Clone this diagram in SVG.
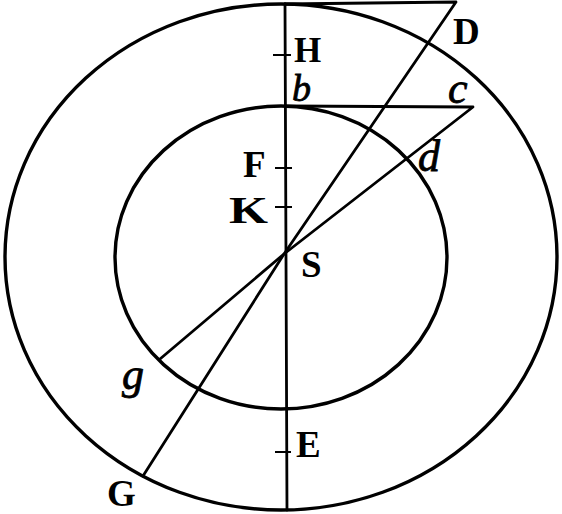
<svg xmlns="http://www.w3.org/2000/svg" width="562" height="514" viewBox="0 0 562 514">
<style>
.ln{fill:none;stroke:#000;stroke-width:2.8;stroke-linecap:round;stroke-linejoin:round}
.cir{fill:none;stroke:#000;stroke-width:3.4}
.tk{stroke:#000;stroke-width:2}
.cap{font-family:"Liberation Serif","Times New Roman",serif;font-weight:bold;font-size:37px;fill:#000}
.it{font-family:"Liberation Serif","Times New Roman",serif;font-style:italic;font-size:44px;fill:#000;stroke:#000;stroke-width:0.8}
</style>
<rect width="562" height="514" fill="#fff"/>
<g id="outer-circle"><ellipse class="cir" cx="281" cy="257" rx="276" ry="253"/></g>
<g id="inner-circle"><ellipse class="cir" cx="281" cy="257.5" rx="166" ry="151.5"/></g>
<g id="connectors">
<path class="ln" d="M285,4 L287,510"/>
<path class="ln" d="M285,4 L456,2 L284,254 L143,476"/>
<path class="ln" d="M285,106 L473,107 L284,254 L160,359"/>
<path class="tk" d="M273,55 H291 M275,168 H292 M275,207 H292 M275,452 H291"/>
</g>
<g id="H"><text class="cap" x="294" y="62" style="font-size:35px">H</text></g>
<g id="D"><text class="cap" x="453" y="44">D</text></g>
<g id="b"><text class="it" x="292" y="101" style="font-size:38px">b</text></g>
<g id="c"><text class="it" x="448" y="103">c</text></g>
<g id="d"><text class="it" x="418" y="171">d</text></g>
<g id="F"><text class="cap" x="243" y="177">F</text></g>
<g id="K"><text class="cap" x="229" y="223" textLength="39" lengthAdjust="spacingAndGlyphs">K</text></g>
<g id="S"><text class="cap" x="301" y="277">S</text></g>
<g id="g"><text class="it" x="122" y="389">g</text></g>
<g id="E"><text class="cap" x="296" y="457">E</text></g>
<g id="G"><text class="cap" x="107" y="506">G</text></g>
</svg>
